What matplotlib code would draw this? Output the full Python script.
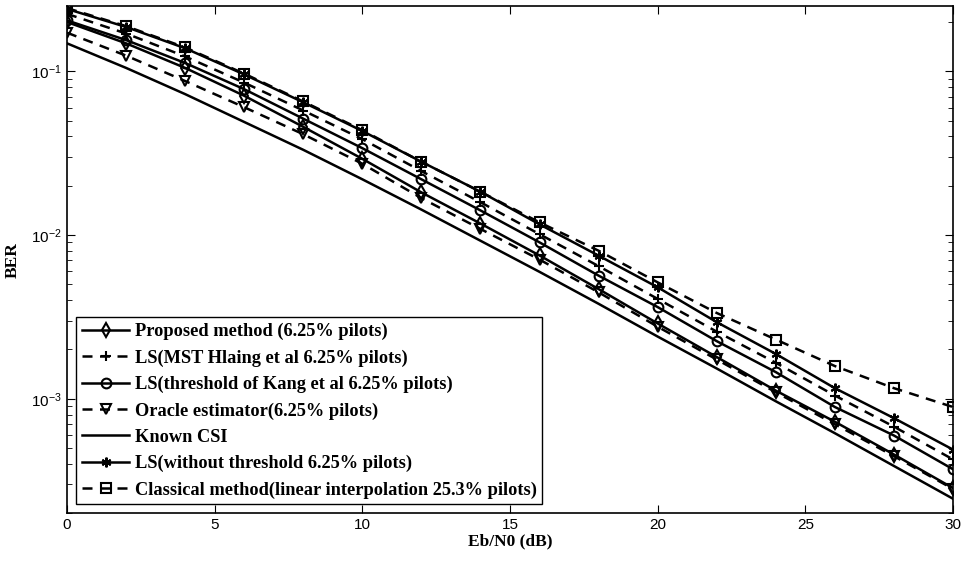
import numpy as np
import matplotlib
matplotlib.use('Agg')
import matplotlib.pyplot as plt

# SNR points (dB)
snr = [0, 2, 4, 6, 8, 10, 12, 14, 16, 18, 20, 22, 24, 26, 28, 30]

# BER curves (log10 values)
log_proposed = [-0.70, -0.83, -0.98, -1.15, -1.34, -1.535, -1.74, -1.93, -2.125, -2.33, -2.54, -2.745, -2.95, -3.14, -3.34, -3.545]
log_mst = [-0.65, -0.77, -0.91, -1.07, -1.24, -1.415, -1.61, -1.80, -1.995, -2.19, -2.39, -2.59, -2.78, -2.98, -3.17, -3.37]
log_kang = [-0.69, -0.81, -0.95, -1.11, -1.29, -1.47, -1.66, -1.85, -2.045, -2.248, -2.44, -2.648, -2.837, -3.05, -3.224, -3.43]
log_oracle = [-0.765, -0.905, -1.06, -1.22, -1.385, -1.565, -1.775, -1.963, -2.15, -2.35, -2.56, -2.76, -2.96, -3.155, -3.35, -3.55]
log_known = [-0.83, -0.98, -1.14, -1.31, -1.48, -1.66, -1.845, -2.035, -2.225, -2.42, -2.62, -2.815, -3.015, -3.21, -3.41, -3.61]
log_noth = [-0.62, -0.73, -0.86, -1.02, -1.19, -1.365, -1.553, -1.736, -1.935, -2.126, -2.319, -2.532, -2.726, -2.935, -3.118, -3.31]
log_classic = [-0.615, -0.725, -0.855, -1.015, -1.185, -1.36, -1.553, -1.736, -1.923, -2.096, -2.289, -2.476, -2.638, -2.80, -2.935, -3.05]

labels = ['Proposed method (6.25% pilots)',
          'LS(MST Hlaing et al 6.25% pilots)',
          'LS(threshold of Kang et al 6.25% pilots)',
          'Oracle estimator(6.25% pilots)',
          'Known CSI',
          'LS(without threshold 6.25% pilots)',
          'Classical method(linear interpolation 25.3% pilots)']

plt.rcParams['mathtext.fontset'] = 'custom'
plt.rcParams['mathtext.rm'] = 'Liberation Sans'
plt.rcParams['mathtext.it'] = 'Liberation Sans'
plt.rcParams['font.family'] = 'Liberation Sans'

fig = plt.figure(figsize=(9.63, 5.67), dpi=100)
ax = fig.add_axes([0.0696, 0.0947, 0.92, 0.8947])

dash = (0, (4, 3))
lw = 1.8
ms = 7
series = [
    (log_proposed, '-', 'd'),
    (log_mst, dash, '+'),
    (log_kang, '-', 'o'),
    (log_oracle, dash, 'v'),
    (log_known, '-', None),
    (log_noth, '-', (6, 2, 0)),
    (log_classic, dash, 's'),
]
for (vals, ls, mk), lab in zip(series, labels):
    ax.semilogy(snr, 10 ** np.array(vals), color='k', linestyle=ls, linewidth=lw,
                marker=mk, markersize=ms, markerfacecolor='none',
                markeredgecolor='k', markeredgewidth=1.5, label=lab)

ax.set_xlim(0, 30)
ax.set_ylim(2e-4, 0.25)
ax.set_xticks([0, 5, 10, 15, 20, 25, 30])
ax.tick_params(which='both', direction='in', top=True, right=True, labelsize=11)
ax.tick_params(which='major', length=6)
ax.tick_params(which='minor', length=3.5)
for s in ax.spines.values():
    s.set_linewidth(1.2)

ax.set_xlabel('Eb/N0 (dB)', fontfamily='Liberation Serif', fontweight='bold', fontsize=12.5, labelpad=1)
ax.set_ylabel('BER', fontfamily='Liberation Serif', fontweight='bold', fontsize=12.5, labelpad=8)

leg = ax.legend(loc='lower left', prop={'family': 'Liberation Serif', 'weight': 'bold', 'size': 13.2},
                handlelength=2.6, labelspacing=0.5, handletextpad=0.3, borderaxespad=0.5,
                fancybox=False, framealpha=1, edgecolor='k', borderpad=0.3)
leg.get_frame().set_linewidth(1.0)

fig.savefig('out.png', dpi=100)
